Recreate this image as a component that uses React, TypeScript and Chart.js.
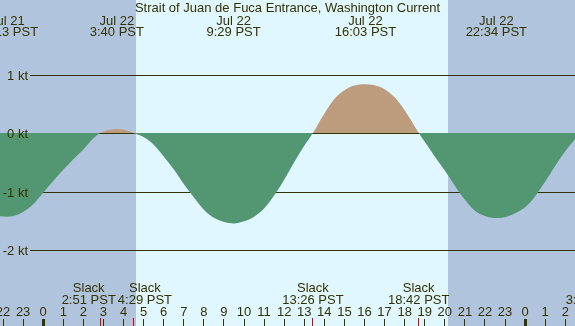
import { useEffect, useRef } from "react";
import { Chart, registerables } from "chart.js";

Chart.register(...registerables);

// Hours are counted from midnight, Jul 22 (PST).
const TITLE = "Strait of Juan de Fuca Entrance, Washington Current";

// Current speed in knots (flood positive, ebb negative)
const hours = [
  -2.16, -1.783, -1.5, -1.0, -0.5, 0.0, 0.5, 1.0, 1.5, 2.0, 2.5, 2.85, 3.25,
  3.667, 4.1, 4.483, 5.0, 5.5, 6.0, 6.5, 7.0, 7.5, 8.0, 8.5, 9.0, 9.483, 10.0,
  10.5, 11.0, 11.5, 12.0, 12.5, 13.0, 13.433, 13.8, 14.0, 14.5, 15.0, 15.5,
  16.05, 16.5, 17.0, 17.5, 18.0, 18.35, 18.7, 19.0, 19.5, 20.0, 20.5, 21.0,
  21.5, 22.0, 22.567, 23.0, 23.5, 24.0, 24.5, 25.0, 25.5, 26.0, 26.5,
];
const knots = [
  -1.425, -1.43, -1.42, -1.35, -1.22, -1.02, -0.82, -0.63, -0.45, -0.28, -0.09,
  0, 0.05, 0.07, 0.05, 0, -0.07, -0.2, -0.4, -0.62, -0.87, -1.1, -1.31, -1.45,
  -1.52, -1.545, -1.51, -1.43, -1.29, -1.07, -0.8, -0.5, -0.22, 0, 0.22, 0.33,
  0.58, 0.73, 0.81, 0.833, 0.815, 0.75, 0.61, 0.39, 0.2, 0, -0.15, -0.4, -0.64,
  -0.9, -1.14, -1.33, -1.42, -1.455, -1.44, -1.37, -1.27, -1.08, -0.83, -0.56,
  -0.31, -0.1,
];

// Max flood / max ebb events
const extremeHours = [-1.783, 3.667, 9.483, 16.05, 22.567];
const extremeDates = ["Jul 21", "Jul 22", "Jul 22", "Jul 22", "Jul 22"];
const extremeTimes = ["22:13 PST", "3:40 PST", "9:29 PST", "16:03 PST", "22:34 PST"];

// Slack water events
const slackHours = [2.85, 4.483, 13.433, 18.7, 27.367];
const slackTimes = ["2:51 PST", "4:29 PST", "13:26 PST", "18:42 PST", "3:22 PST"];

// Hour ticks along the bottom
const hourTicks = [
  -2, -1, 0, 1, 2, 3, 4, 5, 6, 7, 8, 9, 10, 11, 12, 13, 14, 15, 16, 17, 18, 19,
  20, 21, 22, 23, 24, 25, 26,
];

// Reference lines (knots)
const gridKnots = [1, 0, -1, -2];
const gridLabels = ["1 kt", "0 kt", "-1 kt", "-2 kt"];

// Sunrise / sunset (hours)
const daylight = [4.62, 20.16];

const X_MIN = -2.1514;
const X_MAX = 26.484;
const Y_MIN = -3.2991;
const Y_MAX = 2.2735;

const NIGHT = "#b0c4de";
const DAY = "#e0f7ff";
const EBB = "#529672";
const FLOOD = "#bc9c7c";
const INK = "#333300";
const SLACK_TICK = "#e00000";
const FONT = "13px 'Liberation Sans', Arial, sans-serif";

const tidePlugin = {
  id: "tideDecor",
  beforeDraw(chart: any) {
    const { ctx, chartArea: a, scales } = chart;
    const xs = scales.x;
    ctx.save();
    ctx.fillStyle = NIGHT;
    ctx.fillRect(a.left, a.top, a.right - a.left, a.bottom - a.top);
    const x0 = Math.round(xs.getPixelForValue(daylight[0]));
    const x1 = Math.round(xs.getPixelForValue(daylight[1]));
    ctx.fillStyle = DAY;
    ctx.fillRect(x0, a.top, x1 - x0, a.bottom - a.top);
    ctx.restore();
  },
  beforeDatasetsDraw(chart: any) {
    const { ctx, chartArea: a, scales } = chart;
    const ys = scales.y;
    ctx.save();
    ctx.fillStyle = INK;
    gridKnots.forEach((v) => {
      const py = Math.floor(ys.getPixelForValue(v) + 0.5 + 1e-6);
      ctx.fillRect(30, py, a.right - 30, 1);
    });
    ctx.restore();
  },
  afterDatasetsDraw(chart: any) {
    const { ctx, chartArea: a, scales } = chart;
    const xs = scales.x;
    const ys = scales.y;
    ctx.save();
    ctx.font = FONT;
    ctx.fillStyle = INK;
    ctx.textBaseline = "alphabetic";

    // title
    ctx.textAlign = "center";
    ctx.fillText(TITLE, (a.left + a.right) / 2, 12);

    // y labels
    ctx.textAlign = "right";
    gridKnots.forEach((v, i) => {
      const py = Math.floor(ys.getPixelForValue(v) + 0.5 + 1e-6) + 0.5;
      ctx.fillText(gridLabels[i], 28, py + 4.5);
    });

    // push apart neighbouring labels that would overlap
    const spread = (xsList: number[], widths: number[]) => {
      const out = xsList.slice();
      for (let i = 1; i < out.length; i++) {
        const need = (widths[i - 1] + widths[i]) / 2 + 2;
        const gap = out[i] - out[i - 1];
        if (gap < need) {
          const d = (need - gap) / 2;
          out[i - 1] -= d;
          out[i] += d;
        }
      }
      return out;
    };

    // max flood / ebb labels
    ctx.textAlign = "center";
    const exW = extremeHours.map((_, i) =>
      Math.max(ctx.measureText(extremeDates[i]).width, ctx.measureText(extremeTimes[i]).width)
    );
    const exX = spread(extremeHours.map((h) => xs.getPixelForValue(h)), exW);
    exX.forEach((x, i) => {
      ctx.fillText(extremeDates[i], x, 25);
      ctx.fillText(extremeTimes[i], x, 36);
    });

    // slack labels
    const slW = slackHours.map((_, i) =>
      Math.max(ctx.measureText("Slack").width, ctx.measureText(slackTimes[i]).width)
    );
    const slX = spread(slackHours.map((h) => xs.getPixelForValue(h)), slW);
    slX.forEach((x, i) => {
      ctx.fillText("Slack", x, 292);
      ctx.fillText(slackTimes[i], x, 304);
    });

    // hour ticks and labels
    hourTicks.forEach((h) => {
      const px = xs.getPixelForValue(h);
      const label = String(((h % 24) + 24) % 24);
      ctx.fillStyle = INK;
      ctx.fillText(label, px, 316);
      if (h % 24 === 0) {
        ctx.fillRect(Math.floor(px) - 1, 319, 3, a.bottom - 319);
      } else {
        ctx.fillRect(Math.floor(px), 319, 1, a.bottom - 319);
      }
    });

    // slack ticks
    ctx.fillStyle = SLACK_TICK;
    slackHours.forEach((h) => {
      const px = xs.getPixelForValue(h);
      ctx.fillRect(Math.floor(px), 318, 1, a.bottom - 318);
    });
    ctx.restore();
  },
};

export default function App() {
  const canvasRef = useRef<HTMLCanvasElement | null>(null);

  useEffect(() => {
    document.body.style.margin = "0";
    const canvas = canvasRef.current;
    if (!canvas) return;
    const chart = new Chart(canvas, {
      type: "line",
      data: {
        datasets: [
          {
            data: hours.map((h, i) => ({ x: h, y: knots[i] })),
            borderWidth: 0,
            borderColor: "rgba(0,0,0,0)",
            backgroundColor: EBB,
            pointRadius: 0,
            cubicInterpolationMode: "monotone",
            fill: { target: "origin", above: FLOOD, below: EBB },
          },
        ],
      },
      options: {
        responsive: false,
        devicePixelRatio: 1,
        animation: false,
        events: [],
        layout: { padding: 0 },
        scales: {
          x: { type: "linear", min: X_MIN, max: X_MAX, display: false },
          y: { type: "linear", min: Y_MIN, max: Y_MAX, display: false },
        },
        plugins: {
          legend: { display: false },
          tooltip: { enabled: false },
          title: { display: false },
        },
      },
      plugins: [tidePlugin],
    } as any);
    return () => chart.destroy();
  }, []);

  return (
    <div style={{ position: "fixed", left: 0, top: 0, width: 575, height: 326 }}>
      <canvas ref={canvasRef} width={575} height={326} style={{ display: "block" }} />
    </div>
  );
}
